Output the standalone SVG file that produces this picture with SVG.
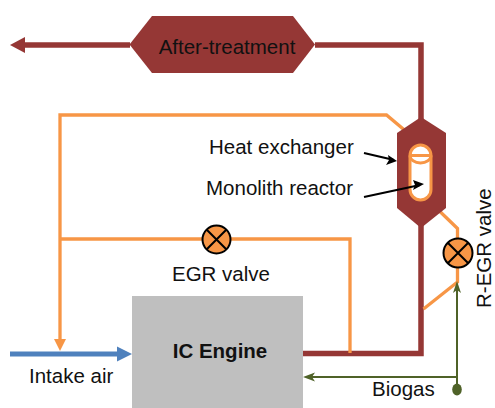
<svg xmlns="http://www.w3.org/2000/svg" width="495" height="408" viewBox="0 0 495 408">
<style>
text{font-family:"Liberation Sans",Arial,sans-serif;font-size:20.500px;fill:#111}
.br{fill:none;stroke:#953735;stroke-width:5.500}
.or{fill:none;stroke:#f79646;stroke-width:3.300}
.gr{fill:none;stroke:#4f6228;stroke-width:2}
.ar{stroke:#000;stroke-width:2.200;fill:none}
.v{fill:#f79646;stroke:#000;stroke-width:2}
.x{stroke:#000;stroke-width:2}
</style>
<rect width="495" height="408" fill="#fff"/>
<g id="engine"><rect x="132" y="296" width="171" height="112" fill="#bfbfbf"/><text x="220" y="358" text-anchor="middle" font-weight="bold">IC Engine</text></g>
<g id="connectors">
<path class="br" d="M315 45H421V353.500H303"/>
<path class="br" d="M130 45H25"/>
<path d="M10 45L25 37V53Z" fill="#953735"/>
<path class="or" d="M60 345V115H386.500L421 144"/>
<path class="or" d="M60 239H350V353"/>
<path class="or" d="M427 199L457.500 228.500V282L423.500 309"/>
<path d="M54 339H66L60 351Z" fill="#f79646"/>
<path d="M10 354H118" stroke="#4f81bd" stroke-width="5" fill="none"/>
<path d="M132 354L117 346.500V361.500Z" fill="#4f81bd"/>
<path class="gr" d="M457 390V288M457 377H310"/>
<path d="M457 281L453 293L457 290L461 293Z" fill="#4f6228"/>
<path d="M303 377L315 372.500L312 377L315 381.500Z" fill="#4f6228"/>
</g>
<g id="after-treatment"><path d="M152 16H293L315 44.500L293 73H152L129.500 44.500Z" fill="#953735"/><text x="227" y="54" text-anchor="middle">After-treatment</text></g>
<g id="reactor">
<path d="M421 117L446 133V208L421 228L397 208V133Z" fill="#953735"/>
<rect x="410" y="145" width="21" height="55" rx="10.500" fill="#fff" stroke="#f79646" stroke-width="3"/>
<path d="M410 155.500H431" fill="none" stroke="#f79646" stroke-width="3"/>
<path d="M410 155.500A10.500 7.500 0 0 0 431 155.500" fill="none" stroke="#f79646" stroke-width="3"/>
</g>
<g id="egr-valve"><circle class="v" cx="216.500" cy="239.500" r="14"/><path class="x" d="M206.500 229.500L226.500 249.500M226.500 229.500L206.500 249.500"/><text x="221" y="281" text-anchor="middle">EGR valve</text></g>
<g id="r-egr-valve"><circle class="v" cx="458" cy="253" r="14.500"/><path class="x" d="M448 243L468 263M468 243L448 263"/><text transform="translate(490.500 308) rotate(-90)">R-EGR valve</text></g>
<g id="labels">
<text x="209" y="154">Heat exchanger</text>
<text x="206" y="195">Monolith reactor</text>
<text x="29" y="383">Intake air</text>
<text x="372" y="396">Biogas</text>
<path class="ar" d="M364 153L394 160M364 197L420 185"/>
<path d="M397 161L386 165L389 160L388 155ZM424 184L413 190L415 185L413 180Z" fill="#000"/>
<ellipse cx="457" cy="389.500" rx="4.800" ry="6" fill="#4f6228"/>
</g>
</svg>
